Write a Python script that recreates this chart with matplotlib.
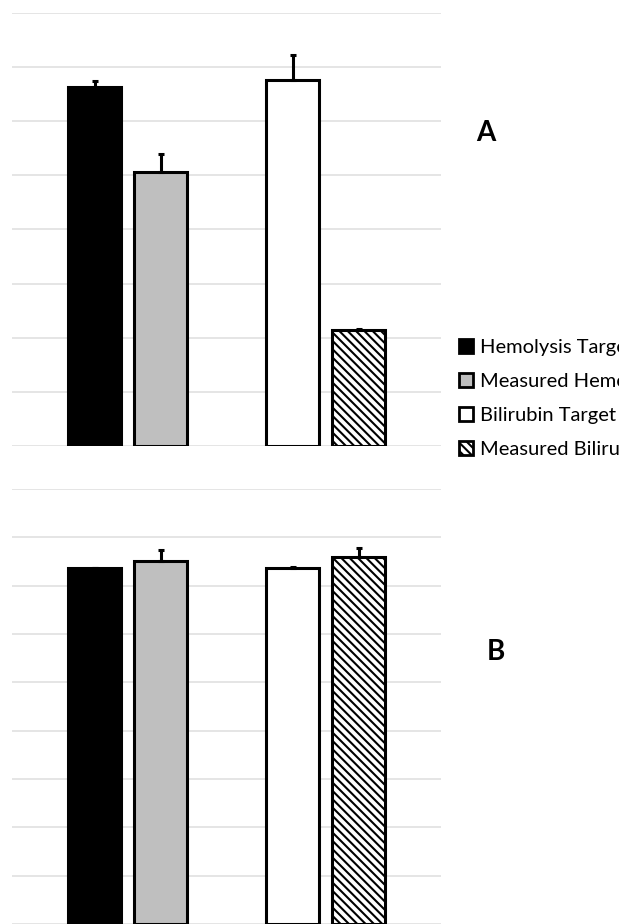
import matplotlib
matplotlib.use("Agg")
import matplotlib.pyplot as plt

plt.rcParams['font.family'] = ['Lato', 'DejaVu Sans']
plt.rcParams['hatch.linewidth'] = 1.5

series = ["Hemolysis Target", "Measured Hemolysis", "Bilirubin Target", "Measured Bilirubin"]
panel_a_values = [6.63, 5.06, 6.77, 2.14]
panel_a_errors = [0.12, 0.34, 0.46, 0.02]
panel_b_values = [7.36, 7.52, 7.37, 7.60]
panel_b_errors = [0.01, 0.22, 0.01, 0.18]
panel_labels = ["A", "B"]

slots = [0, 1, 3, 4]
faces = ["black", "#bfbfbf", "white", "white"]
hatches = [None, None, None, "\\\\\\\\"]

W, H = 619, 924
fig = plt.figure(figsize=(W / 100, H / 100), dpi=100)

def px_axes(x0, y0, x1, y1):
    return fig.add_axes([x0 / W, 1 - y1 / H, (x1 - x0) / W, (y1 - y0) / H])

ax_a = px_axes(12, 13, 441, 446)
ax_b = px_axes(12, 489, 441, 926)

def draw(ax, values, errors, ymax, ymin=0):
    bars = []
    for i in range(len(series)):
        b = ax.bar(slots[i], values[i], width=0.80, color=faces[i], edgecolor="black",
                   linewidth=2.2, hatch=hatches[i], label=series[i], zorder=3)
        bars.append(b)
        ax.errorbar(slots[i], values[i], yerr=[[0], [errors[i]]], fmt="none",
                    ecolor="black", elinewidth=2.2, capsize=2.5, capthick=2.2, zorder=4)
    ax.set_xlim(-1.25, 5.25)
    ax.set_ylim(ymin, ymax)
    ax.set_yticks(range(0, ymax + 1))
    ax.set_xticks([])
    ax.yaxis.grid(True, color="#e3e3e3", linewidth=1.3)
    ax.set_axisbelow(True)
    ax.tick_params(left=False, labelleft=False, bottom=False)
    for s in ax.spines.values():
        s.set_visible(False)
    return bars

bars_a = draw(ax_a, panel_a_values, panel_a_errors, 8)
ax_b_ymin = -2 * 9 / (924 - 489)
bars_b = draw(ax_b, panel_b_values, panel_b_errors, 9, ymin=ax_b_ymin)

fig.text(486 / W, 1 - 133 / H, panel_labels[0], fontsize=20, fontweight="bold",
         ha="center", va="center")
fig.text(495.5 / W, 1 - 652.5 / H, panel_labels[1], fontsize=20, fontweight="bold",
         ha="center", va="center")

leg = fig.legend(handles=[b[0] for b in bars_a], labels=series, loc="upper left",
                 bbox_to_anchor=(459 / W, 1 - 338.5 / H), frameon=False, fontsize=14.5,
                 handlelength=0.70, handleheight=0.70, handletextpad=0.35,
                 labelspacing=0.85, borderpad=0, borderaxespad=0)
for h in leg.legend_handles:
    h.set_linewidth(2.0)

fig.savefig("out.png", dpi=100)
